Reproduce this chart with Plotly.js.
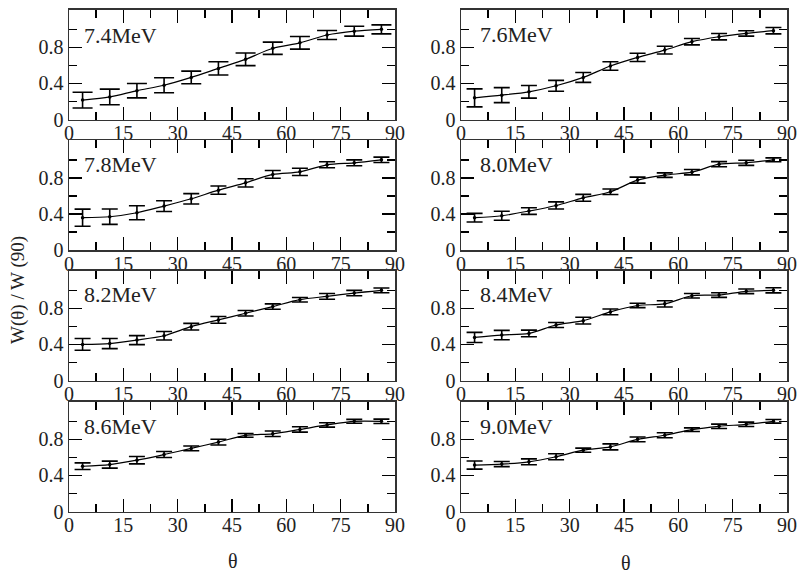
<!DOCTYPE html>
<html>
<head>
<meta charset="utf-8">
<script src="https://cdn.plot.ly/plotly-3.0.1.min.js"></script>
<style>html,body{margin:0;padding:0;background:#fff;}#chart{width:802px;height:575px;}</style>
</head>
<body>
<div id="chart"></div>
<script>
// ---- data ----
const theta = [3.75, 11.25, 18.75, 26.25, 33.75, 41.25, 48.75, 56.25, 63.75, 71.25, 78.75, 86.25];
const panelLabels = ["7.4MeV", "7.6MeV", "7.8MeV", "8.0MeV", "8.2MeV", "8.4MeV", "8.6MeV", "9.0MeV"];
const y74 = [0.215, 0.25, 0.32, 0.38, 0.467, 0.567, 0.667, 0.79, 0.85, 0.937, 0.98, 1.0];
const e74 = [0.087, 0.087, 0.08, 0.083, 0.07, 0.074, 0.07, 0.068, 0.07, 0.05, 0.055, 0.05];
const y76 = [0.24, 0.27, 0.307, 0.374, 0.467, 0.593, 0.689, 0.77, 0.863, 0.918, 0.955, 0.985];
const e76 = [0.1, 0.083, 0.07, 0.06, 0.055, 0.047, 0.046, 0.043, 0.035, 0.035, 0.03, 0.035];
const y78 = [0.358, 0.369, 0.413, 0.487, 0.568, 0.664, 0.745, 0.838, 0.867, 0.945, 0.967, 1.0];
const e78 = [0.095, 0.085, 0.077, 0.06, 0.057, 0.045, 0.046, 0.043, 0.04, 0.033, 0.033, 0.03];
const y80 = [0.358, 0.38, 0.432, 0.494, 0.579, 0.646, 0.775, 0.83, 0.863, 0.952, 0.967, 1.0];
const e80 = [0.048, 0.05, 0.037, 0.04, 0.038, 0.03, 0.033, 0.025, 0.03, 0.028, 0.028, 0.022];
const y82 = [0.4, 0.41, 0.448, 0.496, 0.597, 0.672, 0.746, 0.82, 0.896, 0.933, 0.97, 1.0];
const e82 = [0.065, 0.056, 0.05, 0.047, 0.037, 0.037, 0.03, 0.03, 0.025, 0.032, 0.03, 0.026];
const y84 = [0.478, 0.504, 0.522, 0.616, 0.664, 0.761, 0.832, 0.85, 0.94, 0.948, 0.989, 1.0];
const e84 = [0.056, 0.052, 0.037, 0.028, 0.038, 0.032, 0.024, 0.035, 0.025, 0.026, 0.026, 0.028];
const y86 = [0.502, 0.52, 0.569, 0.632, 0.7, 0.77, 0.844, 0.862, 0.91, 0.96, 1.0, 1.0];
const e86 = [0.037, 0.039, 0.041, 0.033, 0.026, 0.032, 0.021, 0.03, 0.03, 0.024, 0.022, 0.024];
const y90 = [0.515, 0.526, 0.551, 0.607, 0.68, 0.717, 0.8, 0.846, 0.908, 0.945, 0.967, 1.0];
const e90 = [0.045, 0.028, 0.033, 0.033, 0.023, 0.033, 0.026, 0.028, 0.02, 0.024, 0.024, 0.02];
const xTickVals = [0, 15, 30, 45, 60, 75, 90];
const yTickVals = [0, 0.4, 0.8];
const yTickText = ["0", "0.4", "0.8"];

const ySeries = [y74, y76, y78, y80, y82, y84, y86, y90];
const eSeries = [e74, e76, e78, e80, e82, e84, e86, e90];

// ---- layout geometry (pixels) ----
const W = 802, H = 575;
const cols = [[69, 395], [461, 787]];
const rows = [[9.5, 119.5], [140, 250], [270.5, 380.5], [401.5, 511.5]];
const font = "Liberation Serif";

const traces = [];
const layout = {
  width: W, height: H,
  margin: {l: 0, r: 0, t: 0, b: 0},
  paper_bgcolor: "#fff", plot_bgcolor: "#fff",
  showlegend: false,
  font: {family: font, size: 19, color: "#000"},
  annotations: []
};

for (let i = 0; i < 8; i++) {
  const r = Math.floor(i / 2), c = i % 2;
  const n = i + 1;
  const xa = "x" + (n === 1 ? "" : n), ya = "y" + (n === 1 ? "" : n);
  const xk = "xaxis" + (n === 1 ? "" : n), yk = "yaxis" + (n === 1 ? "" : n);
  traces.push({
    type: "scatter", mode: "lines+markers",
    x: theta, y: ySeries[i],
    xaxis: xa, yaxis: ya,
    line: {color: "#000", width: 1.2, shape: "spline", smoothing: 0.8},
    marker: {color: "#000", size: 3.5},
    error_y: {type: "data", array: eSeries[i], visible: true, color: "#000", thickness: 1.6, width: i === 0 ? 10 : 8},
    cliponaxis: false
  });
  layout[xk] = {
    domain: [cols[c][0] / W, cols[c][1] / W],
    anchor: ya,
    range: [0, 90],
    tickvals: xTickVals,
    ticks: "inside", ticklen: 13, tickwidth: 1.5, tickcolor: "#000",
    ticklabelstandoff: -5,
    minor: {dtick: 7.5, tick0: 0, ticks: "inside", ticklen: 8, tickwidth: 1.5, tickcolor: "#000"},
    showline: true, linecolor: "#333", linewidth: 1.5, mirror: "ticks",
    showgrid: false, zeroline: false,
    tickfont: {family: font, size: 20, color: "#222"}
  };
  layout[yk] = {
    domain: [(H - rows[r][1]) / H, (H - rows[r][0]) / H],
    anchor: xa,
    range: [0, 1.22],
    tickvals: yTickVals, ticktext: yTickText,
    ticks: "inside", ticklen: 13, tickwidth: 1.5, tickcolor: "#000",
    minor: {tickvals: [0.2, 0.6, 1.0], ticks: "inside", ticklen: 8, tickwidth: 1.5, tickcolor: "#000"},
    showline: true, linecolor: "#333", linewidth: 1.5, mirror: "ticks",
    showgrid: false, zeroline: false,
    tickfont: {family: font, size: 20, color: "#222"}
  };
  const labX = c === 0 ? 13 : 17;
  const labY = c === 0 && r === 0 ? 26.5 : 24.5;
  layout.annotations.push({
    xref: "paper", yref: "paper",
    x: (cols[c][0] + labX) / W, y: (H - (rows[r][0] + labY)) / H,
    xanchor: "left", yanchor: "middle",
    text: panelLabels[i], showarrow: false,
    font: {family: font, size: 22, color: "#222"}
  });
}

// axis titles
layout.annotations.push({
  xref: "paper", yref: "paper", x: 233 / W, y: (H - 561) / H,
  xanchor: "center", yanchor: "middle", text: "θ", showarrow: false,
  font: {family: font, size: 20, color: "#222"}
});
layout.annotations.push({
  xref: "paper", yref: "paper", x: 626 / W, y: (H - 563) / H,
  xanchor: "center", yanchor: "middle", text: "θ", showarrow: false,
  font: {family: font, size: 20, color: "#222"}
});
layout.annotations.push({
  xref: "paper", yref: "paper", x: 18 / W, y: (H - 290) / H,
  xanchor: "center", yanchor: "middle", text: "W(θ) / W (90)", textangle: -90, showarrow: false,
  font: {family: font, size: 19, color: "#222"}
});

Plotly.newPlot("chart", traces, layout, {displayModeBar: false, staticPlot: true});
</script>
</body>
</html>
